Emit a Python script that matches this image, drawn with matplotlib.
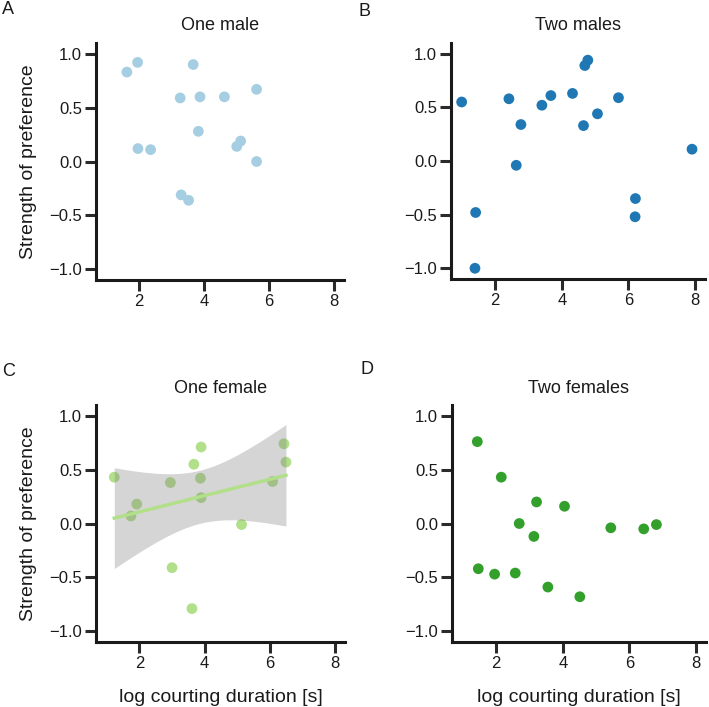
import numpy as np
import matplotlib
matplotlib.use("Agg")
import matplotlib.pyplot as plt

plt.rcParams['font.family'] = ['Liberation Sans', 'DejaVu Sans']

# Panel A: One male
a_x = [1.62, 1.95, 3.66, 3.26, 3.87, 4.62, 5.61, 3.82, 1.96, 2.35, 5.00, 5.12, 5.61, 3.29, 3.52]
a_y = [0.83, 0.92, 0.90, 0.59, 0.60, 0.60, 0.67, 0.28, 0.12, 0.11, 0.14, 0.19, 0.00, -0.31, -0.36]
# Panel B: Two males
b_x = [0.99, 1.41, 1.39, 2.41, 2.77, 2.63, 3.40, 3.67, 4.32, 4.69, 4.78, 4.65, 5.07, 5.70, 6.21, 6.20, 7.91]
b_y = [0.55, -0.48, -1.00, 0.58, 0.34, -0.04, 0.52, 0.61, 0.63, 0.89, 0.94, 0.33, 0.44, 0.59, -0.35, -0.52, 0.11]
# Panel C: One female
c_x = [1.23, 1.74, 1.92, 2.95, 3.00, 3.67, 3.89, 3.87, 3.89, 3.61, 5.13, 6.08, 6.43, 6.49]
c_y = [0.43, 0.07, 0.18, 0.38, -0.41, 0.55, 0.71, 0.42, 0.24, -0.79, -0.01, 0.39, 0.74, 0.57]
# Panel D: Two females
d_x = [1.43, 2.15, 3.21, 4.05, 2.69, 3.13, 5.44, 6.43, 6.81, 1.46, 1.95, 2.57, 3.55, 4.51]
d_y = [0.76, 0.43, 0.20, 0.16, 0.00, -0.12, -0.04, -0.05, -0.01, -0.42, -0.47, -0.46, -0.59, -0.68]

titles = ["One male", "Two males", "One female", "Two females"]
letters = ["A", "B", "C", "D"]
colors = ["#a6cee3", "#1f78b4", "#b2df8a", "#33a02c"]
x_ticks = [2, 4, 6, 8]
y_ticks = [-1.0, -0.5, 0.0, 0.5, 1.0]
y_label = "Strength of preference"
x_label = "log courting duration [s]"

W, H = 709, 707
fig = plt.figure(figsize=(W / 100, H / 100), dpi=100)

# axes boxes in pixels: left, right, top, bottom
boxes = [(96, 344, 43, 280), (451, 705, 43, 279), (96, 345, 405, 642), (452, 706, 405, 642)]
letter_pos = [(2, 9), (358, 11), (2, 372), (360, 370)]
data = [(a_x, a_y), (b_x, b_y), (c_x, c_y), (d_x, d_y)]

for i, (l, r, t, b) in enumerate(boxes):
    ax = fig.add_axes([l / W, 1 - b / H, (r - l) / W, (b - t) / H])
    xs, ys = np.array(data[i][0]), np.array(data[i][1])
    ax.scatter(xs, ys, s=60, color=colors[i], edgecolors='none', zorder=2)
    if i == 2:
        n = len(xs)
        slope, intercept = np.polyfit(xs, ys, 1)
        grid = np.linspace(xs.min(), xs.max(), 100)
        yhat = intercept + slope * grid
        resid = ys - (intercept + slope * xs)
        s = np.sqrt(np.sum(resid ** 2) / (n - 2))
        sxx = np.sum((xs - xs.mean()) ** 2)
        tval = 2.179  # t(0.975, df=12)
        se = s * np.sqrt(1 / n + (grid - xs.mean()) ** 2 / sxx)
        ax.fill_between(grid, yhat - tval * se, yhat + tval * se, color='#808080',
                        alpha=0.33, lw=0, zorder=3)
        ax.plot(grid, yhat, color=colors[i], lw=2.5, zorder=4)
    ax.set_xlim(0.67, 8.3)
    ax.set_ylim(-1.1, 1.1)
    ax.set_xticks(x_ticks)
    ax.set_yticks(y_ticks)
    ax.set_yticklabels([f"{v:.1f}".replace("-", "\u2212") for v in y_ticks])
    for sp in ['top', 'right']:
        ax.spines[sp].set_visible(False)
    for sp in ['left', 'bottom']:
        ax.spines[sp].set_linewidth(2.2)
        ax.spines[sp].set_color('#1a1a1a')
    ax.tick_params(axis='both', direction='out', length=8, width=2.2, color='#2a2a2a',
                   labelsize=12, labelcolor='#1a1a1a', pad=2)
    ax.set_title(titles[i], fontsize=13, pad=9, color='#1a1a1a')
    if i in (0, 2):
        ax.set_ylabel(y_label, fontsize=14, labelpad=9, color='#1a1a1a')
    if i in (2, 3):
        ax.set_xlabel(x_label, fontsize=14, labelpad=13, color='#1a1a1a')
    fig.text(letter_pos[i][0] / W, 1 - letter_pos[i][1] / H, letters[i], fontsize=13,
             ha='left', va='center', color='#1a1a1a')

fig.savefig("out.png", dpi=100)
